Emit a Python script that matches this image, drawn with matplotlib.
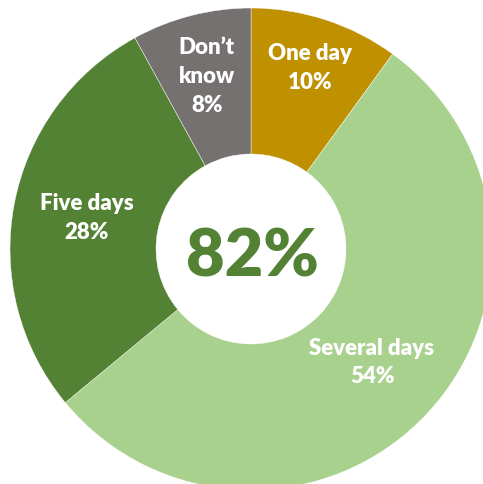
import matplotlib
matplotlib.use('Agg')
import matplotlib.pyplot as plt
import numpy as np

# answer shares, clockwise from 12 o'clock
categories = ['One day', 'Several days', 'Five days', "Don\u2019t\nknow"]
shares = [10, 54, 28, 8]
headline = '82%'

colors = ['#BF9000', '#A9D18E', '#548235', '#767171']
label_radius = [190, 166, 167, 178]

plt.rcParams['font.family'] = ['Lato', 'DejaVu Sans']

fig = plt.figure(figsize=(4.83, 4.84), dpi=100)
ax = fig.add_axes([0, 0, 1, 1])

cx, cy = 251, 235
outer, inner = 241, 95
wedges, _ = ax.pie(shares, colors=colors, startangle=90, counterclock=False,
                   radius=outer, center=(cx, cy), frame=True,
                   wedgeprops=dict(width=outer - inner, edgecolor='white', linewidth=0.3))
ax.set_xlim(0, 483)
ax.set_ylim(0, 484)
ax.set_aspect('equal')
ax.axis('off')

for w, name, val, r in zip(wedges, categories, shares, label_radius):
    mid = np.deg2rad((w.theta1 + w.theta2) / 2)
    x = cx + r * np.cos(mid)
    y = cy + r * np.sin(mid)
    ax.text(x, y, f'{name}\n{val}%', ha='center', va='center', color='white',
            fontsize=16, fontweight='heavy', linespacing=1.45)

ax.text(cx + 1, cy - 8, headline, ha='center', va='center', color='#548235',
        fontsize=48, fontweight='heavy')

fig.savefig('out.png', dpi=100)
